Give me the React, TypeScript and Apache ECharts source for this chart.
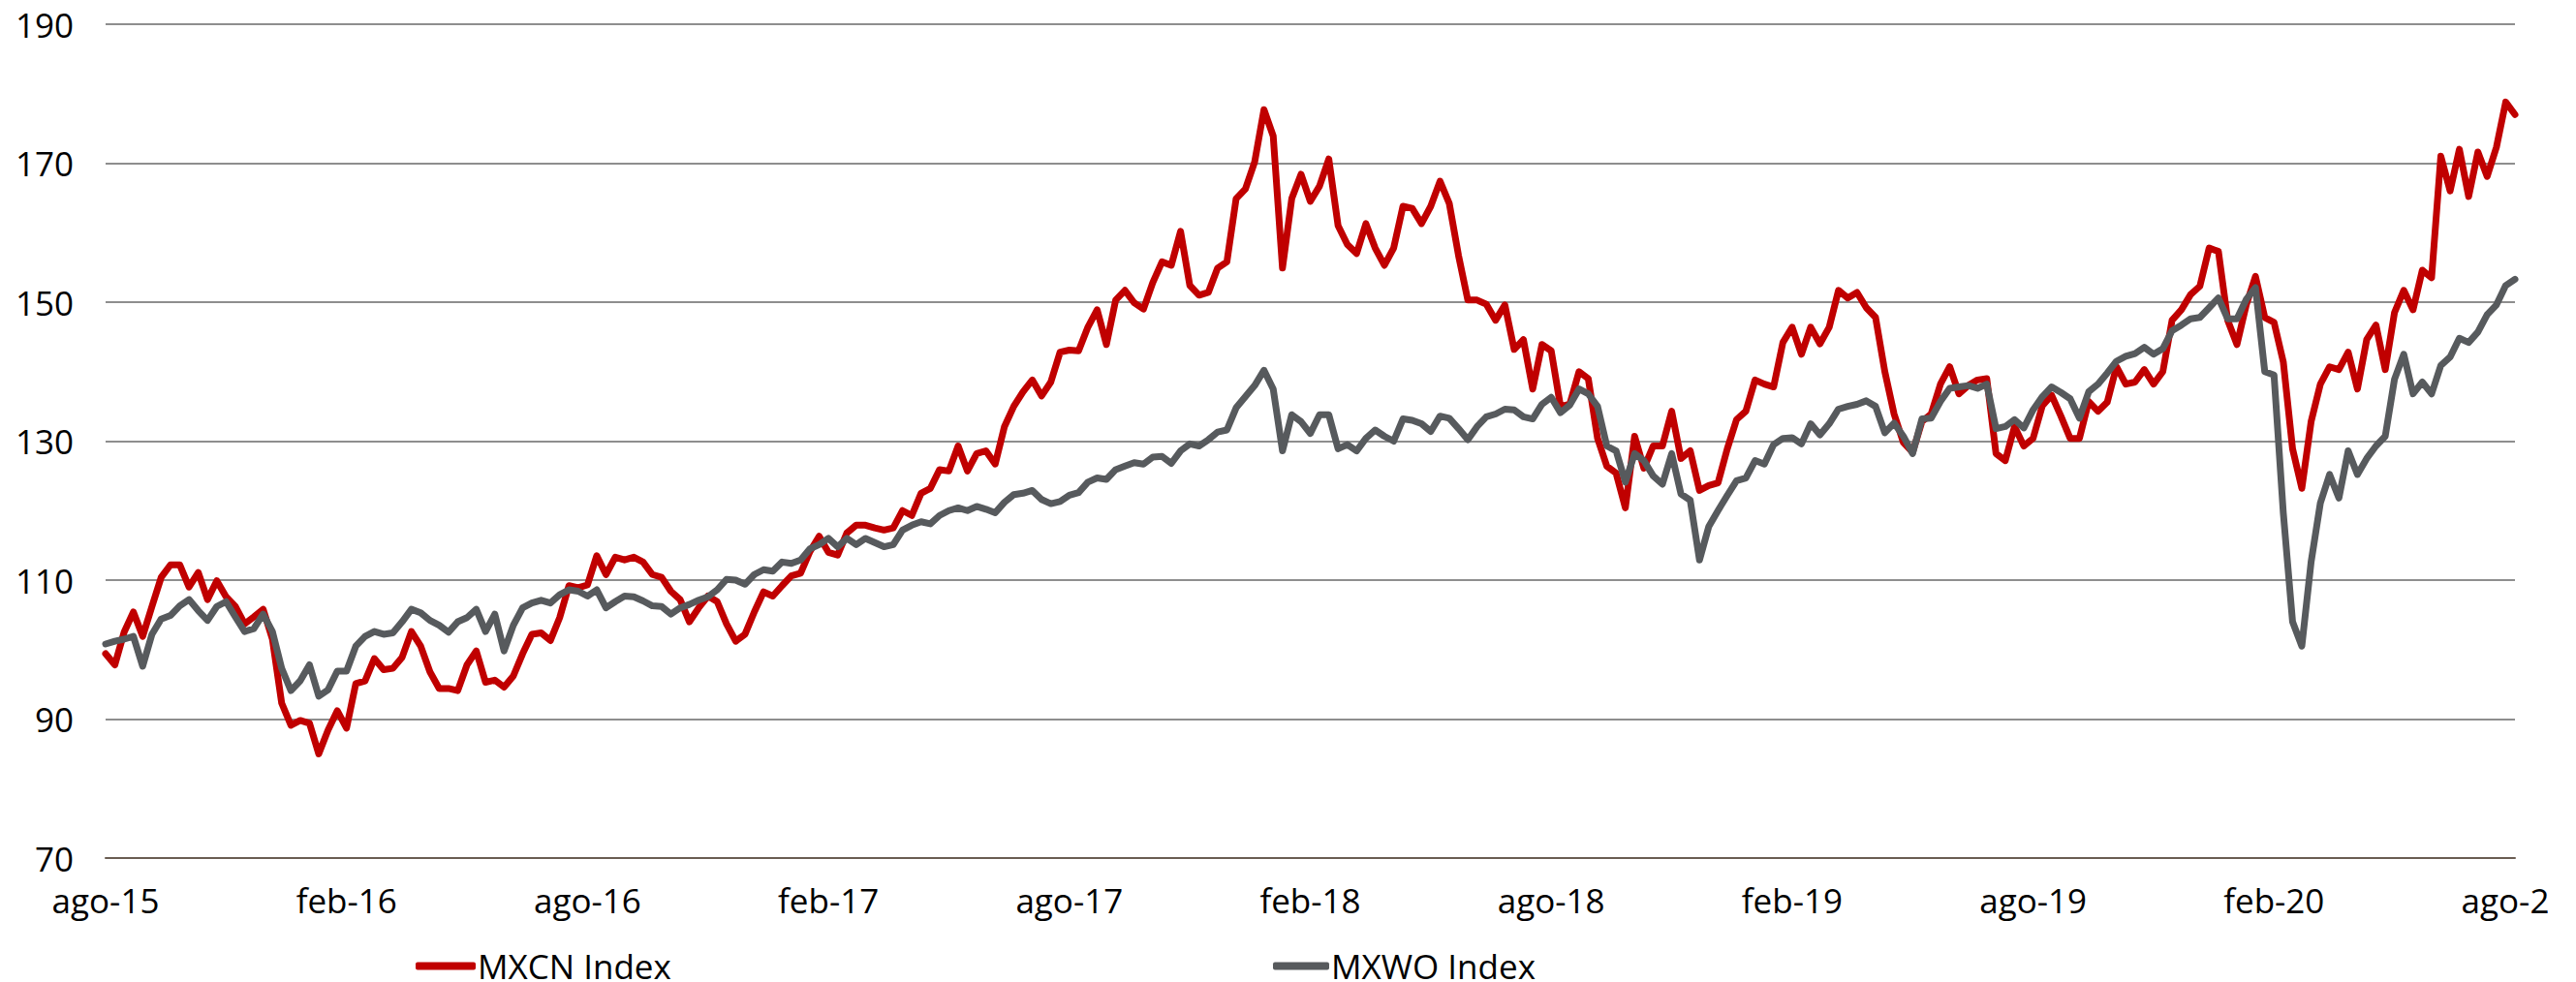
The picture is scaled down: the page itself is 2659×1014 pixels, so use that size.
import React, { useEffect, useRef } from "react";
import * as echarts from "echarts";

// X tick labels (every 26 weeks, starting ago-15)
const xTickLabels = [
  "ago-15", "feb-16", "ago-16", "feb-17", "ago-17", "feb-18",
  "ago-18", "feb-19", "ago-19", "feb-20", "ago-20",
];

const seriesNames = ["MXCN Index", "MXWO Index"];

// Weekly values (week 0 = early Aug 2015)
const mxcn = [
  99.4, 97.8, 102.5, 105.4, 101.9, 106.2, 110.4, 112.2, 112.2, 109.0,
  111.1, 107.2, 109.9, 107.6, 106.2, 103.7, 104.7, 105.8, 101.5, 92.3,
  89.1, 89.8, 89.4, 85.0, 88.4, 91.2, 88.7, 95.1, 95.5, 98.7,
  97.1, 97.3, 98.9, 102.6, 100.5, 96.8, 94.4, 94.4, 94.1, 97.8,
  99.8, 95.3, 95.6, 94.6, 96.2, 99.4, 102.2, 102.4, 101.3, 104.6,
  109.2, 108.9, 109.3, 113.5, 110.8, 113.3, 112.9, 113.3, 112.6, 110.8,
  110.4, 108.4, 107.2, 104.0, 106.0, 107.7, 106.9, 103.7, 101.2, 102.2,
  105.4, 108.3, 107.7, 109.2, 110.6, 111.0, 114.1, 116.3, 114.0, 113.6,
  116.8, 117.9, 117.9, 117.5, 117.2, 117.5, 120.0, 119.3, 122.5, 123.2,
  125.9, 125.7, 129.3, 125.7, 128.2, 128.6, 126.7, 132.1, 135.0, 137.1,
  138.8, 136.5, 138.5, 142.8, 143.1, 143.0, 146.4, 148.9, 143.9, 150.3,
  151.7, 149.9, 149.0, 152.8, 155.8, 155.3, 160.2, 152.4, 151.0, 151.4,
  154.9, 155.8, 164.9, 166.3, 170.2, 177.7, 173.9, 154.9, 164.9, 168.4,
  164.5, 166.7, 170.6, 161.0, 158.3, 157.0, 161.3, 157.8, 155.3, 157.8,
  163.8, 163.5, 161.3, 163.8, 167.4, 164.2, 156.7, 150.3, 150.3, 149.7,
  147.4, 149.6, 143.2, 144.6, 137.5, 143.9, 143.0, 135.0, 135.3, 140.0,
  139.0, 130.4, 126.4, 125.4, 120.4, 130.7, 126.1, 129.3, 129.3, 134.3,
  127.5, 128.6, 122.9, 123.6, 124.0, 128.9, 133.1, 134.3, 138.8, 138.2,
  137.8, 144.2, 146.4, 142.5, 146.4, 144.0, 146.4, 151.7, 150.6, 151.4,
  149.2, 147.8, 140.0, 133.9, 129.8, 128.4, 132.8, 133.9, 138.2, 140.7,
  136.8, 138.0, 138.8, 139.0, 128.2, 127.2, 132.1, 129.3, 130.4, 135.1,
  136.6, 133.6, 130.4, 130.4, 135.7, 134.3, 135.6, 140.7, 138.2, 138.5,
  140.3, 138.2, 140.0, 147.4, 148.9, 151.1, 152.3, 157.8, 157.3, 147.4,
  143.9, 149.6, 153.7, 147.8, 147.1, 141.4, 128.9, 123.2, 132.8, 138.2,
  140.7, 140.3, 142.8, 137.5, 144.6, 146.7, 140.3, 148.5, 151.7, 148.9,
  154.6, 153.5, 171.0, 166.0, 172.0, 165.2, 171.6, 168.1, 172.3, 178.8,
  177.0,
];

const mxwo = [
  100.8, 101.2, 101.5, 101.9, 97.6, 102.2, 104.4, 104.9, 106.3, 107.2,
  105.6, 104.2, 106.2, 106.9, 104.7, 102.6, 103.0, 105.1, 102.6, 97.3,
  94.1, 95.5, 97.8, 93.3, 94.2, 96.9, 96.9, 100.5, 101.9, 102.6,
  102.2, 102.4, 104.0, 105.8, 105.3, 104.2, 103.5, 102.5, 104.0, 104.6,
  105.8, 102.6, 105.1, 99.8, 103.5, 106.0, 106.7, 107.1, 106.7, 107.9,
  108.6, 108.4, 107.7, 108.6, 106.0, 106.9, 107.7, 107.6, 107.0, 106.3,
  106.2, 105.1, 106.0, 106.5, 107.1, 107.6, 108.6, 110.1, 110.0, 109.4,
  110.8, 111.5, 111.3, 112.6, 112.4, 112.9, 114.5, 115.1, 116.0, 114.8,
  116.0, 115.1, 116.0, 115.4, 114.8, 115.1, 117.2, 117.9, 118.4, 118.1,
  119.3, 120.0, 120.4, 120.0, 120.6, 120.2, 119.7, 121.2, 122.3, 122.5,
  122.9, 121.6, 121.0, 121.3, 122.2, 122.6, 124.1, 124.7, 124.5, 125.9,
  126.4, 126.9, 126.7, 127.7, 127.8, 126.8, 128.6, 129.6, 129.3, 130.2,
  131.3, 131.6, 134.8, 136.4, 138.0, 140.2, 137.5, 128.6, 133.8, 132.8,
  131.1, 133.8, 133.8, 128.9, 129.5, 128.6, 130.4, 131.6, 130.7, 130.0,
  133.2, 133.0, 132.5, 131.4, 133.6, 133.3, 131.8, 130.2, 132.1, 133.5,
  133.9, 134.6, 134.5, 133.5, 133.2, 135.3, 136.3, 134.1, 135.2, 137.5,
  136.8, 135.0, 129.3, 128.6, 124.1, 128.2, 127.2, 125.0, 123.8, 128.2,
  122.4, 121.5, 112.9, 117.7, 120.0, 122.2, 124.3, 124.7, 127.2, 126.7,
  129.5, 130.4, 130.5, 129.6, 132.5, 130.9, 132.5, 134.6, 135.0, 135.3,
  135.8, 135.0, 131.2, 132.6, 130.7, 128.2, 133.2, 133.3, 135.7, 137.6,
  137.8, 138.0, 137.6, 138.2, 131.8, 132.1, 133.1, 131.9, 134.5, 136.4,
  137.8, 137.0, 136.1, 133.3, 137.1, 138.2, 139.8, 141.5, 142.2, 142.6,
  143.5, 142.5, 143.3, 145.9, 146.7, 147.6, 147.8, 149.2, 150.6, 147.6,
  147.6, 150.4, 152.1, 140.0, 139.5, 119.7, 104.0, 100.5, 112.6, 121.1,
  125.2, 121.8, 128.6, 125.2, 127.5, 129.3, 130.7, 138.9, 142.5, 136.8,
  138.5, 136.8, 140.9, 142.1, 144.8, 144.2, 145.7, 148.2, 149.6, 152.4,
  153.3,
];

const FONT = "'Open Sans', 'Noto Sans', sans-serif";
const RED = "#c00000";
const GRAY = "#575a5d";

export default function App() {
  const ref = useRef<HTMLDivElement>(null);

  useEffect(() => {
    document.body.style.margin = "0";
    if (!ref.current) return;
    const chart = echarts.init(ref.current, undefined, { renderer: "svg" });
    const textStyle = { fontFamily: FONT, fontSize: 35, color: "#000" };
    chart.setOption({
      animation: false,
      backgroundColor: "#ffffff",
      grid: {
        left: 109,
        right: 34,
        top: 25,
        bottom: 128,
        containLabel: false,
        outerBoundsMode: "none",
      },
      xAxis: {
        type: "value",
        min: 0,
        max: 260,
        interval: 26,
        axisLine: { show: true, lineStyle: { color: "#6a5d52", width: 2 } },
        axisTick: { show: false },
        splitLine: { show: false },
        axisLabel: {
          ...textStyle,
          margin: 26,
          showMinLabel: true,
          showMaxLabel: true,
          hideOverlap: false,
          formatter: (v: number) => xTickLabels[Math.round(v / 26)] ?? "",
        },
      },
      yAxis: {
        type: "value",
        min: 70,
        max: 190,
        interval: 20,
        axisLine: { show: false },
        axisTick: { show: false },
        splitLine: { show: true, lineStyle: { color: "#8e8e8e", width: 2 } },
        axisLabel: { ...textStyle, margin: 33 },
      },
      legend: [
        {
          data: [seriesNames[0]],
          left: 429,
          top: 980,
          icon: "roundRect",
          itemWidth: 62,
          itemHeight: 8,
          itemGap: 5,
          padding: 0,
          textStyle: { ...textStyle, lineHeight: 32, padding: [0, 0, 0, -3] },
        },
        {
          data: [seriesNames[1]],
          left: 1314,
          top: 980,
          icon: "roundRect",
          itemWidth: 58,
          itemHeight: 8,
          itemGap: 5,
          padding: 0,
          textStyle: { ...textStyle, lineHeight: 32, padding: [0, 0, 0, -3] },
        },
      ],
      series: [
        {
          name: seriesNames[0],
          type: "line",
          data: mxcn.map((v, i) => [i, v]),
          showSymbol: false,
          symbol: "none",
          itemStyle: { color: RED },
          lineStyle: { color: RED, width: 7, join: "round", cap: "round" },
        },
        {
          name: seriesNames[1],
          type: "line",
          data: mxwo.map((v, i) => [i, v]),
          showSymbol: false,
          symbol: "none",
          itemStyle: { color: GRAY },
          lineStyle: { color: GRAY, width: 7, join: "round", cap: "round" },
        },
      ],
    });
    return () => chart.dispose();
  }, []);

  return <div ref={ref} style={{ width: 2630, height: 1014 }} />;
}
